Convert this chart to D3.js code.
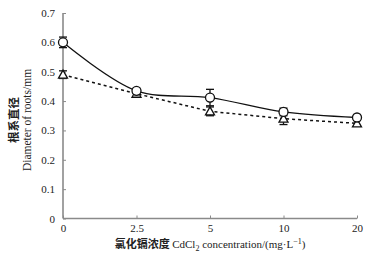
<!DOCTYPE html>
<html><head><meta charset="utf-8">
<script src="https://cdn.jsdelivr.net/npm/d3@7"></script>
<style>body{margin:0;background:#fff}svg{display:block}</style>
</head><body>
<svg id="c" width="370" height="260"></svg>
<script>
const categories = ["0","2.5","5","10","20"];
const rootDiamA = [0.600, 0.435, 0.412, 0.363, 0.344];
const rootDiamAErr = [0.018, 0.008, 0.028, 0.013, 0.008];
const rootDiamB = [0.490, 0.425, 0.365, 0.340, 0.324];
const rootDiamBErr = [0.013, 0.010, 0.015, 0.020, 0.010];
const yTicks = [0,0.1,0.2,0.3,0.4,0.5,0.6,0.7];

const svg = d3.select("#c");
const serif = "'Liberation Serif','Times New Roman',serif";
const x = d3.scalePoint().domain(categories).range([63, 357]);
const y = d3.scaleLinear().domain([0, 0.7]).range([218.5, 13]);
const axisCol = "#8a8a8a";

// axes
const gy = svg.append("g").attr("transform","translate(63,0)")
  .call(d3.axisLeft(y).tickValues(yTicks).tickSize(-3).tickPadding(8).tickFormat(d=>d===0?"0":d3.format(".1f")(d)));
const gx = svg.append("g").attr("transform","translate(0,218.5)")
  .call(d3.axisBottom(x).tickSize(-3).tickPadding(6));
[gx,gy].forEach(g=>{
  g.select(".domain").attr("stroke",axisCol).attr("stroke-width",1.6);
  g.selectAll(".tick line").attr("stroke",axisCol).attr("stroke-width",1);
  g.selectAll(".tick text").attr("fill","#222").style("font-family",serif).style("font-size","11px");
});
gx.select(".domain").attr("d","M63,0H357");
gy.select(".domain").attr("d","M0,218.5V13");

// lines
const line = d3.line().x((d,i)=>x(categories[i])).y(d=>y(d)).curve(d3.curveMonotoneX);
svg.append("path").datum(rootDiamB).attr("d", line.curve(d3.curveLinear))
  .attr("fill","none").attr("stroke","#111").attr("stroke-width",1.5).attr("stroke-dasharray","3,3");
svg.append("path").datum(rootDiamA).attr("d", line.curve(d3.curveCatmullRom.alpha(0.5)))
  .attr("fill","none").attr("stroke","#111").attr("stroke-width",1.3);

function errBars(vals, errs){
  const g = svg.append("g").attr("stroke","#111").attr("stroke-width",1.3);
  vals.forEach((v,i)=>{
    const cx = x(categories[i]);
    g.append("line").attr("x1",cx).attr("x2",cx).attr("y1",y(v+errs[i])).attr("y2",y(v-errs[i]));
    [v+errs[i], v-errs[i]].forEach(e=>g.append("line").attr("x1",cx-4).attr("x2",cx+4).attr("y1",y(e)).attr("y2",y(e)));
  });
}
errBars(rootDiamB, rootDiamBErr);
errBars(rootDiamA, rootDiamAErr);

// markers
svg.append("g").selectAll("path").data(rootDiamB).join("path")
  .attr("d","M0,-4.5L4.5,3.5L-4.5,3.5Z")
  .attr("transform",(d,i)=>`translate(${x(categories[i])},${y(d)})`)
  .attr("fill","#fff").attr("stroke","#111").attr("stroke-width",1.3);
svg.append("g").selectAll("circle").data(rootDiamA).join("circle")
  .attr("cx",(d,i)=>x(categories[i])).attr("cy",d=>y(d)).attr("r",4.5)
  .attr("fill","#fff").attr("stroke","#111").attr("stroke-width",1.3);

// axis titles
const yt = svg.append("g").attr("transform","translate(0,120) rotate(-90)");
yt.append("text").attr("x",0).attr("y",18).attr("text-anchor","middle")
  .style("font-family","'Noto Sans CJK SC',sans-serif").style("font-weight","bold").style("font-size","11.5px").attr("fill","#222")
  .text("根系直径");
yt.append("text").attr("x",0).attr("y",31).attr("text-anchor","middle")
  .style("font-family",serif).style("font-size","11.5px").attr("fill","#222")
  .text("Diameter of roots/mm");

const xt = svg.append("text").attr("x",210).attr("y",248).attr("text-anchor","middle")
  .attr("fill","#222").style("font-size","11px");
xt.append("tspan").style("font-family","'Noto Sans CJK SC',sans-serif").style("font-weight","bold").text("氯化镉浓度 ");
xt.append("tspan").style("font-family",serif).text("CdCl");
xt.append("tspan").style("font-family",serif).style("font-size","8px").attr("dy",3).text("2");
xt.append("tspan").style("font-family",serif).attr("dy",-3).text(" concentration/(mg·L");
xt.append("tspan").style("font-family",serif).style("font-size","8px").attr("dy",-4).text("−1");
xt.append("tspan").style("font-family",serif).attr("dy",4).text(")");
</script>
</body></html>
